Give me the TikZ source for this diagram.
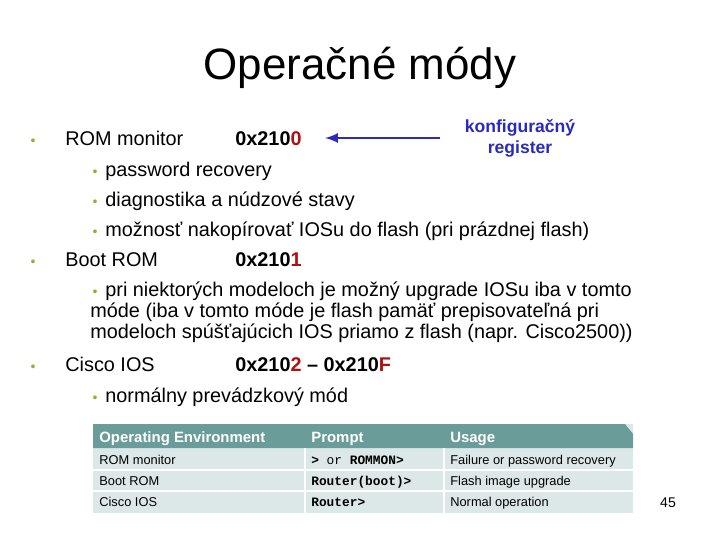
\documentclass[tikz,border=0pt]{standalone}
\usepackage{fontspec}
\setmainfont{Liberation Sans}
\setmonofont{Liberation Mono}
\definecolor{bul}{HTML}{9AAE35}
\definecolor{hexred}{HTML}{B01010}
\definecolor{regblue}{HTML}{2A2ABF}
\definecolor{headteal}{HTML}{6A9C9A}
\definecolor{rowgray}{HTML}{DCE8E8}
\begin{document}
\begin{tikzpicture}[
        x = 0.02cm, y = -0.02cm,
        txt/.style = {anchor=base west, inner sep=0pt, font=\fontsize{11.3}{13}\selectfont},
        hex/.style = {txt, font=\fontsize{11.3}{13}\selectfont\bfseries},
        dot/.style = {anchor=base, inner sep=0pt, text=bul, font=\fontsize{8}{10}\selectfont},
        cell/.style = {anchor=base west, inner sep=0pt, font=\fontsize{7.3}{9}\selectfont},
        head/.style = {cell, text=white, font=\fontsize{8.5}{10}\selectfont\bfseries}
    ]
        \useasboundingbox (0, 0) rectangle (720, 540);

        \node (title) at (360, 68) {\fontsize{25}{30}\selectfont Operačné módy};

        % main bullets
        \node[dot] (d1) at (33, 146) {•};
        \node[txt] (rom) at (65, 146) {ROM monitor};
        \node[hex] (h1) at (235, 146) {0x210\textcolor{hexred}{0}};
        \node[dot] (d2) at (33, 267) {•};
        \node[txt] (boot) at (65, 267) {Boot ROM};
        \node[hex] (h2) at (235, 267) {0x210\textcolor{hexred}{1}};
        \node[dot] (d3) at (33, 372) {•};
        \node[txt] (ios) at (65, 372) {Cisco IOS};
        \node[hex] (h3) at (235, 372) {0x210\textcolor{hexred}{2} – 0x210\textcolor{hexred}{F}};

        % sub bullets
        \node[dot] (s1) at (95, 177) {•};
        \node[txt] (t1) at (105, 177) {password recovery};
        \node[dot] (s2) at (95, 207) {•};
        \node[txt] (t2) at (105, 207) {diagnostika a núdzové stavy};
        \node[dot] (s3) at (95, 237) {•};
        \node[txt] (t3) at (105, 237) {možnosť nakopírovať IOSu do flash (pri prázdnej flash)};
        \node[dot] (s4) at (95, 297) {•};
        \node[txt] (t4) at (105, 297) {pri niektorých modeloch je možný upgrade IOSu iba v tomto};
        \node[txt] (t5) at (90, 318) {móde (iba v tomto móde je flash pamäť prepisovateľná pri};
        \node[txt] (t6) at (90, 339) {modeloch spúšťajúcich IOS priamo z flash (napr. Cisco2500))};
        \node[dot] (s5) at (95, 402) {•};
        \node[txt] (t7) at (105, 402) {normálny prevádzkový mód};

        % register label and arrow
        \node[align=center, text=regblue, inner sep=0pt, font=\fontsize{10}{12}\selectfont\bfseries]
            (reg) at (520, 138) {konfiguračný\\register};
        \coordinate (arr) at (440, 138);
        \draw[regblue, line width=1.5pt, -latex] (arr) -- (325, 138);

        % table
        \fill[rowgray] (93, 424) rectangle (633, 513);
        \fill[headteal] (93, 424) -- (625, 424) -- (633, 434) -- (633, 448) -- (93, 448) -- cycle;
        \foreach \y in {470, 491}
            \draw[white, line width=1.2pt] (93, \y) -- (633, \y);
        \foreach \x in {305, 444}
            \draw[white, line width=1.2pt] (\x, 448) -- (\x, 513);
        \node[head] (c1) at (99, 442) {Operating Environment};
        \node[head] (c2) at (311, 442) {Prompt};
        \node[head] (c3) at (450, 442) {Usage};
        \node[cell] (r1a) at (99, 464) {ROM monitor};
        \node[cell] (r1b) at (311, 464) {\texttt{\textbf{>} or \textbf{ROMMON>}}};
        \node[cell] (r1c) at (450, 464) {Failure or password recovery};
        \node[cell] (r2a) at (99, 485) {Boot ROM};
        \node[cell] (r2b) at (311, 485) {\texttt{\textbf{Router(boot)>}}};
        \node[cell] (r2c) at (450, 485) {Flash image upgrade};
        \node[cell] (r3a) at (99, 506) {Cisco IOS};
        \node[cell] (r3b) at (311, 506) {\texttt{\textbf{Router>}}};
        \node[cell] (r3c) at (450, 506) {Normal operation};

        \node[font=\fontsize{8}{10}\selectfont] (page) at (668, 503) {45};
    \end{tikzpicture}
\end{document}
